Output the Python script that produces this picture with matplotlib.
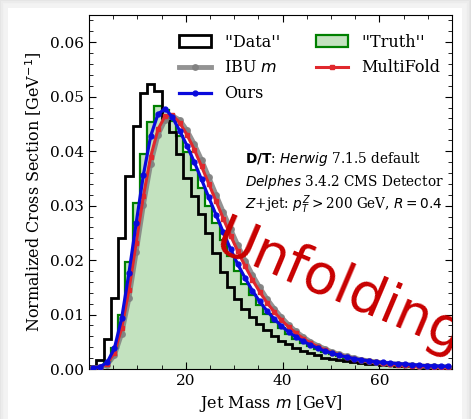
import numpy as np
import matplotlib
matplotlib.use("Agg")
import matplotlib.pyplot as plt
from matplotlib.patches import Rectangle, Patch
from matplotlib.lines import Line2D

plt.rcParams['font.family'] = ['DejaVu Serif']
plt.rcParams['mathtext.fontset'] = 'dejavusans'

bin_edges = np.linspace(0, 75, 51)
bin_centers = 0.5 * (bin_edges[:-1] + bin_edges[1:])

data_vals = [0.0005, 0.0017, 0.0056, 0.0130, 0.0241, 0.0354, 0.0446, 0.0506, 0.0523, 0.0511,
             0.0460, 0.0435, 0.0394, 0.0351, 0.0317, 0.0284, 0.0250, 0.0213, 0.0179, 0.0150,
             0.0128, 0.0110, 0.0095, 0.0082, 0.0071, 0.0061, 0.0052, 0.0045, 0.0039, 0.0033,
             0.0029, 0.0025, 0.0021, 0.0018, 0.0016, 0.0014, 0.0012, 0.0011, 0.0010, 0.0009,
             0.0008, 0.0007, 0.0006, 0.0006, 0.0005, 0.0005, 0.0004, 0.0004, 0.0003, 0.0003]

truth_vals = [0.0002, 0.0005, 0.0015, 0.0039, 0.0099, 0.0196, 0.0304, 0.0394, 0.0454, 0.0483,
              0.0475, 0.0455, 0.0428, 0.0398, 0.0366, 0.0333, 0.0300, 0.0268, 0.0237, 0.0207,
              0.0180, 0.0156, 0.0135, 0.0117, 0.0101, 0.0087, 0.0075, 0.0065, 0.0056, 0.0048,
              0.0042, 0.0036, 0.0031, 0.0027, 0.0024, 0.0021, 0.0018, 0.0016, 0.0014, 0.0012,
              0.0011, 0.0010, 0.0009, 0.0008, 0.0007, 0.0006, 0.0006, 0.0005, 0.0005, 0.0004]

ibu_vals = [0.0002, 0.0003, 0.0008, 0.0025, 0.0065, 0.0130, 0.0215, 0.0302, 0.0377, 0.0430,
            0.0458, 0.0465, 0.0457, 0.0438, 0.0413, 0.0384, 0.0352, 0.0320, 0.0288, 0.0257,
            0.0227, 0.0199, 0.0173, 0.0150, 0.0129, 0.0111, 0.0095, 0.0081, 0.0069, 0.0059,
            0.0050, 0.0043, 0.0037, 0.0031, 0.0027, 0.0023, 0.0020, 0.0017, 0.0015, 0.0013,
            0.0011, 0.0010, 0.0009, 0.0008, 0.0007, 0.0006, 0.0005, 0.0005, 0.0004, 0.0004]

multifold_vals = [0.0002, 0.0004, 0.0010, 0.0030, 0.0075, 0.0145, 0.0232, 0.0318, 0.0390, 0.0440,
                  0.0465, 0.0466, 0.0452, 0.0430, 0.0403, 0.0372, 0.0340, 0.0308, 0.0276, 0.0245,
                  0.0216, 0.0189, 0.0164, 0.0142, 0.0122, 0.0105, 0.0090, 0.0077, 0.0066, 0.0056,
                  0.0048, 0.0041, 0.0035, 0.0030, 0.0026, 0.0022, 0.0019, 0.0016, 0.0014, 0.0012,
                  0.0011, 0.0009, 0.0008, 0.0007, 0.0006, 0.0005, 0.0005, 0.0004, 0.0004, 0.0003]

ours_vals = [0.0002, 0.0004, 0.0012, 0.0038, 0.0093, 0.0176, 0.0268, 0.0357, 0.0428, 0.0468,
             0.0478, 0.0462, 0.0437, 0.0410, 0.0380, 0.0348, 0.0315, 0.0283, 0.0251, 0.0220,
             0.0192, 0.0167, 0.0144, 0.0124, 0.0107, 0.0092, 0.0079, 0.0068, 0.0059, 0.0051,
             0.0044, 0.0038, 0.0033, 0.0029, 0.0025, 0.0022, 0.0019, 0.0017, 0.0015, 0.0013,
             0.0012, 0.0011, 0.0010, 0.0009, 0.0008, 0.0007, 0.0006, 0.0006, 0.0005, 0.0005]

W, H = 471, 419
fig = plt.figure(figsize=(W / 100, H / 100), dpi=100)
fig.patch.set_facecolor('#dcdcdc')

# card with soft shadow
for i, a in enumerate([0.15, 0.3, 0.5, 0.7, 0.9]):
    pad = (5 - i) * 1.6
    fig.patches.append(Rectangle(((6 - pad) / W, -0.05), (458 + 2 * pad) / W, (1 - (6 - pad) / H) + 0.05,
                                 transform=fig.transFigure, facecolor='#f4f4f4', edgecolor='none',
                                 alpha=a, zorder=-10 + i))
fig.patches.append(Rectangle((8 / W, -0.05), 454 / W, (1 - 8 / H) + 0.05, transform=fig.transFigure,
                             facecolor='white', edgecolor='none', zorder=-3))

ax = fig.add_axes([89 / W, 1 - 369 / H, (452 - 89) / W, (369 - 15) / H])

ax.hist(bin_centers, bins=bin_edges, weights=truth_vals, histtype='stepfilled',
        facecolor='#c3e2bf', edgecolor='none', zorder=1)
ax.hist(bin_centers, bins=bin_edges, weights=truth_vals, histtype='step',
        color='green', lw=1.6, zorder=2)
ax.hist(bin_centers, bins=bin_edges, weights=data_vals, histtype='step',
        color='black', lw=2.0, zorder=3)
ax.plot(bin_centers, ibu_vals, color='gray', lw=3.5, marker='o', ms=4, alpha=0.85, zorder=4)
ax.plot(bin_centers, multifold_vals, color='#e0282d', lw=2.2, marker='s', ms=3.5, zorder=5)
ax.plot(bin_centers, ours_vals, color='#0a0adc', lw=2.3, marker='o', ms=3.5, zorder=6)

ax.set_xlim(0, 75)
ax.set_ylim(0, 0.065)
ax.set_xticks([20, 40, 60])
ax.set_xticks(np.arange(0, 76, 5), minor=True)
ax.set_yticks(np.arange(0, 0.061, 0.01))
ax.set_yticks(np.arange(0, 0.065, 0.002), minor=True)
ax.tick_params(which='both', direction='in', top=True, right=True, labelsize=11)
ax.tick_params(which='major', length=5)
ax.tick_params(which='minor', length=3)
ax.set_xlabel('Jet Mass $m$ [GeV]', fontsize=11.5)
ax.set_ylabel('Normalized Cross Section [GeV$^{-1}$]', fontsize=11.5)

handles = [Patch(facecolor='none', edgecolor='black', lw=2),
           Line2D([], [], color='gray', lw=3.5, marker='o', ms=4, alpha=0.85),
           Line2D([], [], color='#0a0adc', lw=2.3, marker='o', ms=3.5),
           Patch(facecolor='#c3e2bf', edgecolor='green', lw=1.6),
           Line2D([], [], color='#e0282d', lw=2.2, marker='s', ms=3.5)]
labels = ["''Data''", 'IBU $m$', 'Ours', "''Truth''", 'MultiFold']
ax.legend(handles, labels, ncol=2, frameon=False, loc='upper right', fontsize=11.5,
          bbox_to_anchor=(1.0, 0.981),
          handlelength=2.0, columnspacing=2.26, borderaxespad=0.34, labelspacing=0.55)

ax.text(0.43, 0.582, r'$\mathbf{D/T}$: $\it{Herwig}$ 7.1.5 default', transform=ax.transAxes, fontsize=9.8)
ax.text(0.43, 0.517, r'$\it{Delphes}$ 3.4.2 CMS Detector', transform=ax.transAxes, fontsize=9.8)
ax.text(0.43, 0.452, r'$Z$+jet: $p_T^Z>$200 GeV, $R=0.4$', transform=ax.transAxes, fontsize=9.8)

ax.text(0.689, 0.230, 'Unfolding', transform=ax.transAxes, fontsize=40, color='#c80000',
        family='DejaVu Sans', rotation=-23, rotation_mode='anchor', ha='center', va='center',
        clip_on=True, zorder=10)

fig.savefig('out.png', dpi=100, facecolor=fig.get_facecolor())
